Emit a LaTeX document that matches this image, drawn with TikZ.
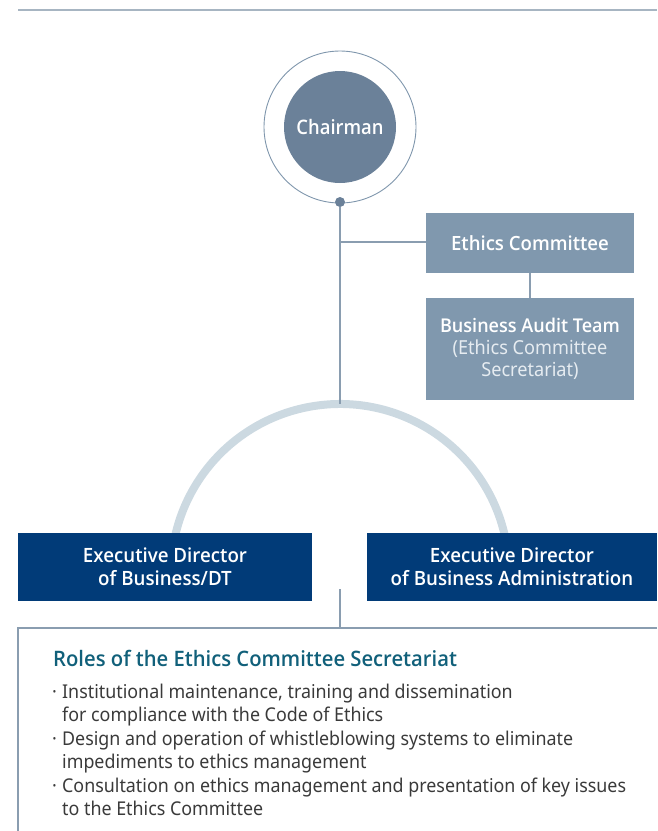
\documentclass[tikz,border=0pt]{standalone}
\usepackage{fontspec}
\setmainfont{Noto Sans}[FakeStretch=0.94]
\newfontfamily\chfont{Open Sans Semibold}[FakeStretch=0.92]
\newfontfamily\bfnt{Open Sans Semibold}[FakeStretch=0.95]
\definecolor{topline}{HTML}{A7B5C2}
\definecolor{ringc}{HTML}{7F96AC}
\definecolor{chairfill}{HTML}{6B8199}
\definecolor{linec}{HTML}{8A9DB0}
\definecolor{boxgray}{HTML}{8098AE}
\definecolor{arcc}{HTML}{CCD9E1}
\definecolor{navy}{HTML}{013B78}
\definecolor{titlec}{HTML}{11607A}
\definecolor{bodyc}{HTML}{3A3A3A}
\definecolor{subc}{HTML}{E6ECF1}
\tikzset{
  conn/.style={draw=linec, line width=1.2pt},
  graybox/.style={fill=boxgray, text=white, minimum width=208pt, inner sep=0pt, align=center},
  navybox/.style={fill=navy, text=white, minimum height=68pt, inner sep=0pt, align=center, font=\bfnt\fontsize{19.7}{23}\selectfont},
  bodyline/.style={anchor=base west, inner sep=0pt, text=bodyc, font=\fontsize{19}{23}\selectfont},
}
\begin{document}
\begin{tikzpicture}[x=1pt,y=-1pt]
\useasboundingbox (0,0) rectangle (657,831);
% top rule
\coordinate (tl) at (18,10);
\coordinate (tr) at (657,10);
\draw[topline, line width=1.5pt] (tl) -- (tr);
% chairman
\node[circle, draw=ringc, line width=0.9pt, minimum size=152pt, inner sep=0pt] (ring) at (340,127) {};
\node[circle, fill=chairfill, minimum size=112pt, inner sep=0pt, text=white, font=\chfont\fontsize{20}{23}\selectfont] (chair) at (340,127) {Chairman};
\node[circle, fill=chairfill, minimum size=10pt, inner sep=0pt] (dot) at (340,202) {};
% arc
\coordinate (arctop) at (340,404);
\draw[arcc, line width=8pt] (340,573) ++(-12:169) arc[start angle=-12, end angle=-168, radius=169] coordinate (arcend);
% ethics
\node[graybox, minimum height=60pt, font=\bfnt\fontsize{19.6}{23}\selectfont] (ethics) at (530,243) {Ethics Committee};
\node[graybox, minimum height=102pt, font=\fontsize{19.3}{23}\selectfont] (audit) at (530,349)
  {{\bfnt\fontsize{19}{23}\selectfont Business Audit Team}\\[-1pt]\textcolor{subc}{(Ethics Committee}\\[-1pt]\textcolor{subc}{Secretariat)}};
\coordinate (branch) at (340,242);
\draw[conn] (dot.south) -- (arctop);
\draw[conn] (branch) -- (branch -| ethics.west);
\draw[conn] (ethics.south) -- (audit.north);
% executives
\node[navybox, minimum width=294pt] (exl) at (165,567) {Executive Director\\of Business/DT};
\node[navybox, minimum width=290pt] (exr) at (512,567) {Executive Director\\of Business Administration};
% roles box
\coordinate (stem) at (340,589);
\coordinate (rtop) at (340,628);
\coordinate (rtl) at (18,628);
\coordinate (rtr) at (657,628);
\coordinate (rbl) at (18,831);
\draw[conn] (stem) -- (rtop);
\draw[linec, line width=1.5pt] (rtr) -- (rtl) -- (rbl);
\node[anchor=base west, inner sep=0pt, text=titlec, font=\bfnt\fontsize{21.3}{24}\selectfont] (title) at (53,666) {Roles of the Ethics Committee Secretariat};
\node[bodyline] (b1) at (52,698) {\makebox[10pt][l]{·}Institutional maintenance, training and dissemination};
\node[bodyline] (b1b) at (52,721) {\makebox[10pt][l]{}for compliance with the Code of Ethics};
\node[bodyline] (b2) at (52,745) {\makebox[10pt][l]{·}Design and operation of whistleblowing systems to eliminate};
\node[bodyline] (b2b) at (52,768) {\makebox[10pt][l]{}impediments to ethics management};
\node[bodyline] (b3) at (52,792) {\makebox[10pt][l]{·}Consultation on ethics management and presentation of key issues};
\node[bodyline] (b3b) at (52,815) {\makebox[10pt][l]{}to the Ethics Committee};
\end{tikzpicture}
\end{document}
